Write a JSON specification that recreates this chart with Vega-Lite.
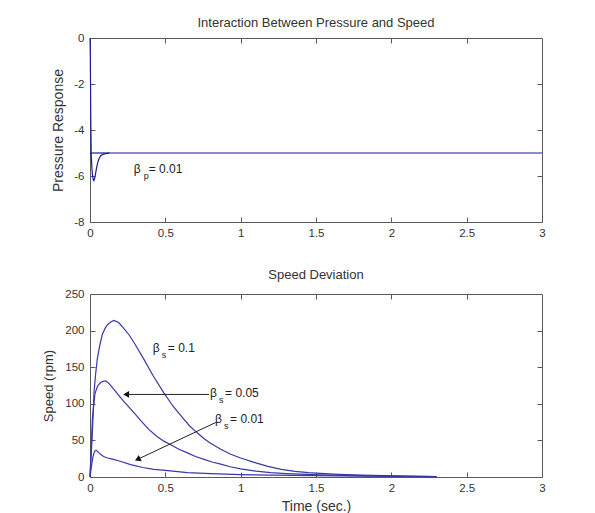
{
  "$schema": "https://vega.github.io/schema/vega-lite/v6.json",
  "background": "white",
  "autosize": {"type": "pad"},
  "padding": {"left": 42, "top": 16, "right": 0, "bottom": 0},
  "config": {
    "font": "Liberation Sans",
    "view": {"stroke": "#5a5a5a", "strokeWidth": 1},
    "axis": {
      "grid": false, "domain": false, "ticks": true, "tickSize": -5, "tickColor": "#5a5a5a", "tickWidth": 1,
      "labelFont": "Liberation Sans", "labelFontSize": 11.5, "labelColor": "#333333", "labelFlush": false,
      "titleFont": "Liberation Sans", "titleFontWeight": "normal", "titleColor": "#333333"
    },
    "axisX": {"labelPadding": 10},
    "axisY": {"labelPadding": 11},
    "title": {"font": "Liberation Sans", "fontSize": 13, "fontWeight": "normal", "color": "#333333"}
  },
  "datasets": {
    "pressure": [
      {"series": "resp", "t": 0, "v": 0},
      {"series": "resp", "t": 0.002, "v": -0.7},
      {"series": "resp", "t": 0.005, "v": -3.4},
      {"series": "resp", "t": 0.008, "v": -5.0},
      {"series": "resp", "t": 0.012, "v": -5.6},
      {"series": "resp", "t": 0.017, "v": -6.0},
      {"series": "resp", "t": 0.022, "v": -6.17},
      {"series": "resp", "t": 0.026, "v": -6.2},
      {"series": "resp", "t": 0.031, "v": -6.1},
      {"series": "resp", "t": 0.038, "v": -5.85},
      {"series": "resp", "t": 0.045, "v": -5.6},
      {"series": "resp", "t": 0.052, "v": -5.4},
      {"series": "resp", "t": 0.06, "v": -5.25},
      {"series": "resp", "t": 0.071, "v": -5.12},
      {"series": "resp", "t": 0.085, "v": -5.06},
      {"series": "resp", "t": 0.104, "v": -5.03},
      {"series": "resp", "t": 0.13, "v": -5.0},
      {"series": "resp", "t": 3, "v": -5.0},
      {"series": "ss", "t": 0, "v": -5.0},
      {"series": "ss", "t": 0.13, "v": -5.0}
    ],
    "speed": [
      {"series": "0.1", "t": 0, "v": 0},
      {"series": "0.1", "t": 0.008, "v": 30},
      {"series": "0.1", "t": 0.016, "v": 62},
      {"series": "0.1", "t": 0.027, "v": 117},
      {"series": "0.1", "t": 0.038, "v": 142},
      {"series": "0.1", "t": 0.049, "v": 162},
      {"series": "0.1", "t": 0.065, "v": 180},
      {"series": "0.1", "t": 0.082, "v": 195},
      {"series": "0.1", "t": 0.1, "v": 203},
      {"series": "0.1", "t": 0.116, "v": 208},
      {"series": "0.1", "t": 0.14, "v": 212},
      {"series": "0.1", "t": 0.16, "v": 214},
      {"series": "0.1", "t": 0.19, "v": 211},
      {"series": "0.1", "t": 0.22, "v": 204},
      {"series": "0.1", "t": 0.26, "v": 194},
      {"series": "0.1", "t": 0.3, "v": 181},
      {"series": "0.1", "t": 0.36, "v": 160},
      {"series": "0.1", "t": 0.42, "v": 138},
      {"series": "0.1", "t": 0.49, "v": 115},
      {"series": "0.1", "t": 0.55, "v": 97},
      {"series": "0.1", "t": 0.614, "v": 81},
      {"series": "0.1", "t": 0.66, "v": 70},
      {"series": "0.1", "t": 0.713, "v": 60},
      {"series": "0.1", "t": 0.76, "v": 52},
      {"series": "0.1", "t": 0.8, "v": 46},
      {"series": "0.1", "t": 0.868, "v": 38},
      {"series": "0.1", "t": 0.93, "v": 31.5},
      {"series": "0.1", "t": 1.0, "v": 26},
      {"series": "0.1", "t": 1.09, "v": 20},
      {"series": "0.1", "t": 1.18, "v": 14.5},
      {"series": "0.1", "t": 1.27, "v": 10.5},
      {"series": "0.1", "t": 1.36, "v": 7.8},
      {"series": "0.1", "t": 1.45, "v": 6},
      {"series": "0.1", "t": 1.53, "v": 5},
      {"series": "0.1", "t": 1.65, "v": 3.6},
      {"series": "0.1", "t": 1.8, "v": 2.5},
      {"series": "0.1", "t": 1.95, "v": 1.8},
      {"series": "0.1", "t": 2.1, "v": 1.2},
      {"series": "0.1", "t": 2.2, "v": 0.8},
      {"series": "0.1", "t": 2.3, "v": 0.5},
      {"series": "0.05", "t": 0, "v": 0},
      {"series": "0.05", "t": 0.008, "v": 40},
      {"series": "0.05", "t": 0.016, "v": 80},
      {"series": "0.05", "t": 0.033, "v": 114},
      {"series": "0.05", "t": 0.05, "v": 124},
      {"series": "0.05", "t": 0.07, "v": 129},
      {"series": "0.05", "t": 0.09, "v": 131},
      {"series": "0.05", "t": 0.108, "v": 131},
      {"series": "0.05", "t": 0.125, "v": 128},
      {"series": "0.05", "t": 0.145, "v": 123},
      {"series": "0.05", "t": 0.17, "v": 117},
      {"series": "0.05", "t": 0.2, "v": 109},
      {"series": "0.05", "t": 0.23, "v": 102},
      {"series": "0.05", "t": 0.26, "v": 95},
      {"series": "0.05", "t": 0.3, "v": 86},
      {"series": "0.05", "t": 0.337, "v": 77},
      {"series": "0.05", "t": 0.39, "v": 65},
      {"series": "0.05", "t": 0.447, "v": 55},
      {"series": "0.05", "t": 0.49, "v": 49},
      {"series": "0.05", "t": 0.536, "v": 44},
      {"series": "0.05", "t": 0.59, "v": 38},
      {"series": "0.05", "t": 0.647, "v": 33},
      {"series": "0.05", "t": 0.7, "v": 28},
      {"series": "0.05", "t": 0.757, "v": 24},
      {"series": "0.05", "t": 0.81, "v": 20.5},
      {"series": "0.05", "t": 0.868, "v": 17.5},
      {"series": "0.05", "t": 0.93, "v": 14},
      {"series": "0.05", "t": 1.0, "v": 11},
      {"series": "0.05", "t": 1.1, "v": 8},
      {"series": "0.05", "t": 1.2, "v": 6},
      {"series": "0.05", "t": 1.3, "v": 4.7},
      {"series": "0.05", "t": 1.4, "v": 3.8},
      {"series": "0.05", "t": 1.53, "v": 3},
      {"series": "0.05", "t": 1.7, "v": 2.2},
      {"series": "0.05", "t": 1.9, "v": 1.5},
      {"series": "0.05", "t": 2.1, "v": 0.9},
      {"series": "0.05", "t": 2.3, "v": 0.5},
      {"series": "0.01", "t": 0, "v": 0},
      {"series": "0.01", "t": 0.01, "v": 15},
      {"series": "0.01", "t": 0.02, "v": 28},
      {"series": "0.01", "t": 0.03, "v": 35},
      {"series": "0.01", "t": 0.04, "v": 36.5},
      {"series": "0.01", "t": 0.05, "v": 35},
      {"series": "0.01", "t": 0.07, "v": 31},
      {"series": "0.01", "t": 0.09, "v": 28},
      {"series": "0.01", "t": 0.116, "v": 26},
      {"series": "0.01", "t": 0.15, "v": 24.5},
      {"series": "0.01", "t": 0.2, "v": 21.5},
      {"series": "0.01", "t": 0.27, "v": 17},
      {"series": "0.01", "t": 0.35, "v": 13},
      {"series": "0.01", "t": 0.425, "v": 10.5},
      {"series": "0.01", "t": 0.5, "v": 9},
      {"series": "0.01", "t": 0.647, "v": 6},
      {"series": "0.01", "t": 0.8, "v": 4.5},
      {"series": "0.01", "t": 1.0, "v": 3.3},
      {"series": "0.01", "t": 1.2, "v": 2.5},
      {"series": "0.01", "t": 1.5, "v": 1.8},
      {"series": "0.01", "t": 1.8, "v": 1.2},
      {"series": "0.01", "t": 2.0, "v": 0.8},
      {"series": "0.01", "t": 2.3, "v": 0.4}
    ],
    "labelsTop": [
      {"t": 0.29, "v": -5.69, "sub": "p", "val": "= 0.01"}
    ],
    "labelsBottom": [
      {"t": 0.417, "v": 176, "sub": "s", "val": "= 0.1"},
      {"t": 0.797, "v": 115, "sub": "s", "val": "= 0.05"},
      {"t": 0.83, "v": 78.7, "sub": "s", "val": "= 0.01"}
    ],
    "arrows": [
      {"id": "h", "t": 0.79, "v": 112.8, "t2": 0.24, "v2": 112.8},
      {"id": "d", "t": 0.835, "v": 74.5, "t2": 0.316, "v2": 24.1}
    ]
  },
  "spacing": 29,
  "vconcat": [
    {
      "title": {"text": "Interaction Between Pressure and Speed", "offset": 2},
      "width": 452,
      "height": 184,
      "layer": [
        {
          "data": {"name": "pressure"},
          "mark": {"type": "line", "color": "#1c1c9e", "strokeWidth": 1.2},
          "encoding": {
            "x": {"field": "t", "type": "quantitative", "scale": {"domain": [0, 3], "nice": false, "zero": false},
                  "axis": {"values": [0, 0.5, 1, 1.5, 2, 2.5, 3], "title": null, "labelExpr": "'' + datum.value"}},
            "y": {"field": "v", "type": "quantitative", "scale": {"domain": [-8, 0], "nice": false, "zero": false},
                  "axis": {"values": [-8, -6, -4, -2, 0], "title": "Pressure Response", "titleFontSize": 14, "titlePadding": 8, "labelExpr": "'' + datum.value"}},
            "detail": {"field": "series"}
          }
        },
        {
          "data": {"name": "pressure"},
          "mark": {"type": "line", "strokeOpacity": 0},
          "encoding": {
            "x": {"field": "t", "type": "quantitative", "scale": {"domain": [0, 3], "nice": false, "zero": false},
                  "axis": {"orient": "top", "values": [0.5, 1, 1.5, 2, 2.5], "labels": false, "title": null}},
            "y": {"field": "v", "type": "quantitative", "scale": {"domain": [-8, 0], "nice": false, "zero": false},
                  "axis": {"orient": "right", "values": [-6, -4, -2], "labels": false, "title": null}},
            "detail": {"field": "series"}
          }
        },
        {
          "data": {"name": "labelsTop"},
          "mark": {"type": "text", "align": "left", "baseline": "middle", "fontSize": 12, "color": "#222222"},
          "encoding": {
            "x": {"field": "t", "type": "quantitative", "scale": {"domain": [0, 3]}, "axis": null},
            "y": {"field": "v", "type": "quantitative", "scale": {"domain": [-8, 0]}, "axis": null},
            "text": {"value": "β"}
          }
        },
        {
          "data": {"name": "labelsTop"},
          "mark": {"type": "text", "align": "left", "baseline": "middle", "fontSize": 9, "dx": 10, "dy": 7, "color": "#222222"},
          "encoding": {
            "x": {"field": "t", "type": "quantitative", "scale": {"domain": [0, 3]}, "axis": null},
            "y": {"field": "v", "type": "quantitative", "scale": {"domain": [-8, 0]}, "axis": null},
            "text": {"field": "sub"}
          }
        },
        {
          "data": {"name": "labelsTop"},
          "mark": {"type": "text", "align": "left", "baseline": "middle", "fontSize": 12, "dx": 15, "color": "#222222"},
          "encoding": {
            "x": {"field": "t", "type": "quantitative", "scale": {"domain": [0, 3]}, "axis": null},
            "y": {"field": "v", "type": "quantitative", "scale": {"domain": [-8, 0]}, "axis": null},
            "text": {"field": "val"}
          }
        }
      ],
      "resolve": {"axis": {"x": "independent", "y": "independent"}}
    },
    {
      "title": {"text": "Speed Deviation", "offset": 6},
      "width": 452,
      "height": 183,
      "layer": [
        {
          "data": {"name": "speed"},
          "mark": {"type": "line", "color": "#3838a8", "strokeWidth": 1.2},
          "encoding": {
            "x": {"field": "t", "type": "quantitative", "scale": {"domain": [0, 3], "nice": false, "zero": false},
                  "axis": {"values": [0, 0.5, 1, 1.5, 2, 2.5, 3], "title": "Time (sec.)", "titleFontSize": 14, "titlePadding": 6, "labelExpr": "'' + datum.value"}},
            "y": {"field": "v", "type": "quantitative", "scale": {"domain": [0, 250], "nice": false},
                  "axis": {"values": [0, 50, 100, 150, 200, 250], "title": "Speed (rpm)", "titleFontSize": 13, "titlePadding": 9}},
            "detail": {"field": "series"}
          }
        },
        {
          "data": {"name": "speed"},
          "mark": {"type": "line", "strokeOpacity": 0},
          "encoding": {
            "x": {"field": "t", "type": "quantitative", "scale": {"domain": [0, 3], "nice": false, "zero": false},
                  "axis": {"orient": "top", "values": [0.5, 1, 1.5, 2, 2.5], "labels": false, "title": null}},
            "y": {"field": "v", "type": "quantitative", "scale": {"domain": [0, 250], "nice": false},
                  "axis": {"orient": "right", "values": [50, 100, 150, 200], "labels": false, "title": null}},
            "detail": {"field": "series"}
          }
        },
        {
          "data": {"name": "arrows"},
          "mark": {"type": "rule", "color": "#222222", "strokeWidth": 1},
          "encoding": {
            "x": {"field": "t", "type": "quantitative", "scale": {"domain": [0, 3]}, "axis": null},
            "y": {"field": "v", "type": "quantitative", "scale": {"domain": [0, 250]}, "axis": null},
            "x2": {"field": "t2"},
            "y2": {"field": "v2"}
          }
        },
        {
          "data": {"name": "arrows"},
          "transform": [{"filter": "datum.id === 'h'"}],
          "mark": {"type": "point", "shape": "triangle-left", "filled": true, "size": 45, "color": "#111111", "opacity": 1},
          "encoding": {
            "x": {"field": "t2", "type": "quantitative", "scale": {"domain": [0, 3]}, "axis": null},
            "y": {"field": "v2", "type": "quantitative", "scale": {"domain": [0, 250]}, "axis": null}
          }
        },
        {
          "data": {"name": "arrows"},
          "transform": [{"filter": "datum.id === 'd'"}],
          "mark": {"type": "point", "shape": "triangle-left", "filled": true, "size": 45, "angle": 335, "color": "#111111", "opacity": 1},
          "encoding": {
            "x": {"field": "t2", "type": "quantitative", "scale": {"domain": [0, 3]}, "axis": null},
            "y": {"field": "v2", "type": "quantitative", "scale": {"domain": [0, 250]}, "axis": null}
          }
        },
        {
          "data": {"name": "labelsBottom"},
          "mark": {"type": "text", "align": "left", "baseline": "middle", "fontSize": 12, "color": "#222222"},
          "encoding": {
            "x": {"field": "t", "type": "quantitative", "scale": {"domain": [0, 3]}, "axis": null},
            "y": {"field": "v", "type": "quantitative", "scale": {"domain": [0, 250]}, "axis": null},
            "text": {"value": "β"}
          }
        },
        {
          "data": {"name": "labelsBottom"},
          "mark": {"type": "text", "align": "left", "baseline": "middle", "fontSize": 9, "dx": 9, "dy": 7, "color": "#222222"},
          "encoding": {
            "x": {"field": "t", "type": "quantitative", "scale": {"domain": [0, 3]}, "axis": null},
            "y": {"field": "v", "type": "quantitative", "scale": {"domain": [0, 250]}, "axis": null},
            "text": {"field": "sub"}
          }
        },
        {
          "data": {"name": "labelsBottom"},
          "mark": {"type": "text", "align": "left", "baseline": "middle", "fontSize": 12, "dx": 15, "color": "#222222"},
          "encoding": {
            "x": {"field": "t", "type": "quantitative", "scale": {"domain": [0, 3]}, "axis": null},
            "y": {"field": "v", "type": "quantitative", "scale": {"domain": [0, 250]}, "axis": null},
            "text": {"field": "val"}
          }
        }
      ],
      "resolve": {"axis": {"x": "independent", "y": "independent"}}
    }
  ]
}
